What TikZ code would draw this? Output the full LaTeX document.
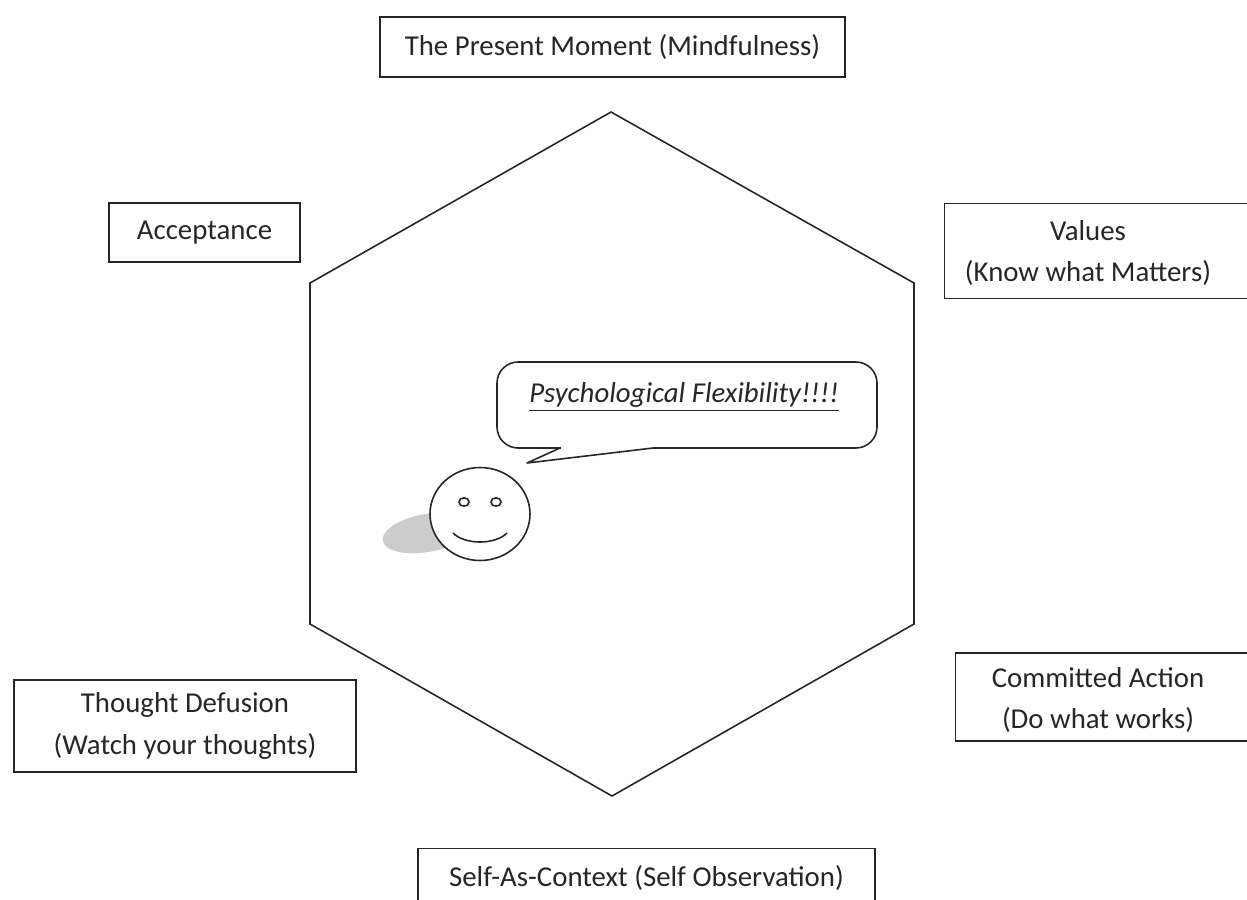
\documentclass[tikz,border=0pt]{standalone}
\usepackage{fontspec}
\setmainfont{Carlito}
\usetikzlibrary{positioning,calc}

\begin{document}
\begin{tikzpicture}[x=0.02cm,y=-0.02cm,
		line width=0.9pt,draw=black!85,
		every node/.style={font=\fontsize{16.4}{23.5}\selectfont,text=black!85,align=center},
		box/.style={draw,minimum width=#1,inner sep=0pt},
		box/.default=4cm]
		\clip (0,0) rectangle (1247,899);
		% the six processes
		\node[box=9.3cm,minimum height=1.2cm] (present) at (612.5,47) {The Present Moment (Mindfulness)};
		\node[box=3.82cm,minimum height=1.18cm] (accept) at (204.5,232.5) {Acceptance};
		\node[box=6.3cm,minimum height=1.9cm] (values) at (1102,251) {};
		\node (valtext) at (1088,253) {Values\\(Know what Matters)};
		\node[box=6.84cm,minimum height=1.84cm] (defusion) at (185,726) {Thought Defusion\\(Watch your thoughts)};
		\node[box=6.1cm,minimum height=1.76cm] (action) at (1108,697) {};
		\node (acttext) at (1098,700) {Committed Action\\(Do what works)};
		\node[box=9.14cm,minimum height=1.3cm] (self) at (646.5,881) {};
		\node (selftext) at (646.5,878) {Self-As-Context (Self Observation)};
		% hexagon
		\draw (611,112) -- (914,283) -- (914,624) -- (612,796) -- (310,624) -- (310,283) -- cycle;
		% speech bubble
		\draw[line join=round] (560,448) -- (527,463) -- (653,448) [rounded corners=12pt] -- (877,448) -- (877,362) -- (497,362) -- (497,448) -- (561,448);
		\node (flex) at (684,397) {\itshape\underline{Psychological Flexibility!!!!}};
		% smiley
		\fill[black!20,rotate around={10:(427,533)}] (427,533) ellipse [x radius=0.9cm,y radius=0.38cm];
		\filldraw[fill=white] (480,514) ellipse [x radius=1cm,y radius=0.93cm];
		\coordinate (face) at (480,514);
		\draw ($(face)+(-16,-12)$) ellipse [x radius=0.1cm,y radius=0.085cm] ($(face)+(16,-12)$) ellipse [x radius=0.1cm,y radius=0.085cm];
		\draw ($(face)+(-27,19)$) .. controls ($(face)+(-15,31)$) and ($(face)+(15,31)$) .. ($(face)+(27,19)$);
\end{tikzpicture}
\end{document}
